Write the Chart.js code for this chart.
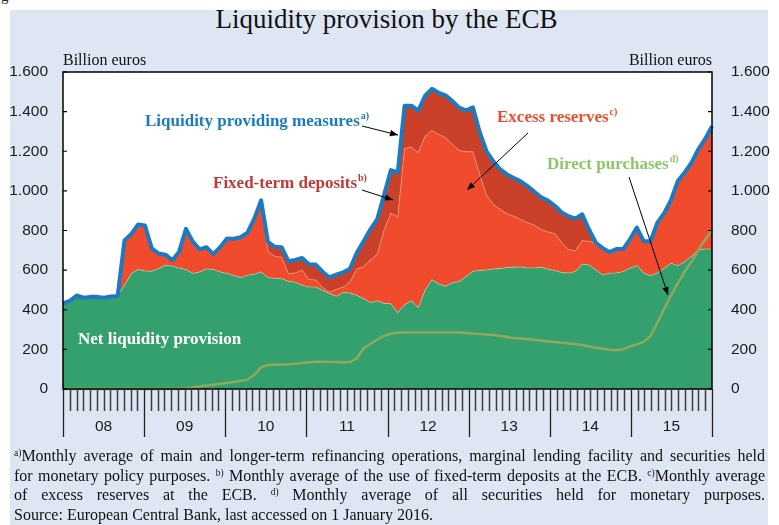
<!DOCTYPE html>
<html><head><meta charset="utf-8">
<script src="https://cdn.jsdelivr.net/npm/chart.js@4.4.1/dist/chart.umd.min.js"></script>
<style>
html,body{margin:0;padding:0;background:#fff;width:779px;height:525px;overflow:hidden;}
#bg{position:absolute;left:10px;top:10px;width:758px;height:515px;background:#dfe6f3;}
#frag{position:absolute;left:1px;top:-12px;font:15px "Liberation Serif",serif;color:#222;}
#title{position:absolute;left:0;width:773px;top:4px;text-align:center;font:27px "Liberation Serif",serif;color:#111;}
#c{position:absolute;left:0;top:0;}
#notes{position:absolute;left:14px;top:446px;width:751px;font:16px/19.5px "Liberation Serif",serif;color:#111;}
#notes div{text-align:justify;text-align-last:justify;white-space:nowrap;}
#notes div.last{text-align-last:left;}
#notes sup{font-size:9.5px;line-height:0;vertical-align:5px;}
</style></head>
<body>
<div id="bg"></div>
<div id="frag">g</div>
<div id="title">Liquidity provision by the ECB</div>
<canvas id="c" width="779" height="525"></canvas>
<div id="notes">
<div><sup>a)</sup>Monthly average of main and longer-term refinancing operations, marginal lending facility and securities held</div>
<div>for monetary policy purposes. <sup>b)</sup> Monthly average of the use of fixed-term deposits at the ECB. <sup>c)</sup>Monthly average</div>
<div>of excess reserves at the ECB. <sup>d)</sup> Monthly average of all securities held for monetary purposes.</div>
<div class="last">Source: European Central Bank, last accessed on 1 January 2016.</div>
</div>
<script>
// ---- data (billion euros, monthly averages Jan 2008 - Dec 2015) ----
const yearLabels = ['08','09','10','11','12','13','14','15'];
const monthNames = ['01','02','03','04','05','06','07','08','09','10','11','12'];
const yTickValues = [0,200,400,600,800,1000,1200,1400,1600];
const yTickLabels = ['0','200','400','600','800','1.000','1.200','1.400','1.600'];

const netLiquidity = [
 432,445,472,461,465,465,461,467,470,524,583,603,
 596,594,608,625,620,611,603,583,591,606,603,591,
 583,573,562,574,579,591,562,559,557,544,539,524,
 515,515,498,482,468,487,485,473,456,436,445,432,
 430,385,425,445,410,498,552,530,519,536,542,568,
 594,598,601,606,608,613,615,616,611,611,614,605,
 598,588,585,593,630,626,601,576,585,585,593,610,
 623,585,571,585,610,635,622,643,669,702,706,706];
const excessReserves = [
 0,0,0,0,0,0,0,0,0,226,200,227,
 229,116,76,53,30,82,205,161,114,110,78,125,
 177,185,204,215,281,361,132,111,108,38,47,76,
 38,35,14,6,35,27,55,132,161,215,235,371,
 458,483,789,776,782,778,753,755,749,698,662,629,
 603,485,377,325,298,271,257,239,228,216,191,187,
 187,150,119,104,120,119,137,135,106,121,113,147,
 192,161,175,255,278,319,428,450,473,508,556,621];
const fixedTermDeposits = [
 0,0,0,0,0,0,0,0,0,0,0,0,
 0,0,0,0,0,0,0,0,0,0,0,0,
 0,0,0,0,0,0,49,48,51,63,65,61,
 77,78,80,75,74,75,67,83,129,155,178,177,
 217,225,216,209,213,204,210,210,214,219,216,209,
 225,213,222,218,202,199,193,193,185,168,163,159,
 140,153,168,163,132,60,0,0,0,0,0,0,
 0,0,0,0,0,0,0,0,0,0,0,0];
const directPurchases = [
 0,0,0,0,0,0,0,0,0,0,0,0,
 0,0,0,0,0,0,3,8,13,18,22,27,
 30,35,40,47,72,108,122,123,124,125,127,131,
 135,137,137,136,136,135,136,155,205,228,250,268,
 280,284,285,285,285,285,285,285,285,285,285,283,
 280,278,275,272,268,263,258,255,252,248,245,240,
 237,233,230,227,222,215,208,203,198,196,200,215,
 225,238,268,333,405,472,534,593,643,702,753,803];

const months = [];
yearLabels.forEach(y => monthNames.forEach(m => months.push(y + '-' + m)));
const liquidityProviding = netLiquidity.map((v, i) => v + excessReserves[i] + fixedTermDeposits[i]);

// ---- styles ----
const C = {green:'#34a06e', excess:'#f04b2d', fixed:'#cb4028', blue:'#1b7bc2', dp:'#8fa85a',
  lblBlue:'#1b7bc2', lblFixed:'#bf3a33', lblExcess:'#f04b2d', lblDp:'#8cc765'};

function arrow(ctx, x1, y1, x2, y2) {
  ctx.save();
  ctx.strokeStyle = '#000'; ctx.fillStyle = '#000'; ctx.lineWidth = 1;
  ctx.beginPath(); ctx.moveTo(x1, y1); ctx.lineTo(x2, y2); ctx.stroke();
  const a = Math.atan2(y2 - y1, x2 - x1), L = 8, W = 3.2;
  ctx.beginPath();
  ctx.moveTo(x2, y2);
  ctx.lineTo(x2 - L*Math.cos(a) + W*Math.sin(a), y2 - L*Math.sin(a) - W*Math.cos(a));
  ctx.lineTo(x2 - L*Math.cos(a) - W*Math.sin(a), y2 - L*Math.sin(a) + W*Math.cos(a));
  ctx.closePath(); ctx.fill();
  ctx.restore();
}
function label(ctx, text, sup, x, y, color) {
  ctx.save();
  ctx.fillStyle = color; ctx.textBaseline = 'middle'; ctx.textAlign = 'left';
  ctx.font = 'bold 17px "Liberation Serif", serif';
  ctx.fillText(text, x, y);
  if (sup) {
    const w = ctx.measureText(text).width;
    ctx.font = 'bold 10px "Liberation Serif", serif';
    ctx.fillText(sup, x + w + 1, y - 6);
  }
  ctx.restore();
}

const deco = {
  id: 'deco',
  beforeDraw(chart) {
    const {ctx, chartArea: a} = chart;
    ctx.save(); ctx.fillStyle = '#fff';
    ctx.fillRect(a.left, a.top, a.right - a.left, a.bottom - a.top);
    ctx.restore();
  },
  afterDraw(chart) {
    const ctx = chart.ctx, a = chart.chartArea, y = chart.scales.y, xt = chart.scales.xt;
    ctx.save();
    // frame
    ctx.strokeStyle = '#000'; ctx.lineWidth = 1.5;
    ctx.strokeRect(a.left, a.top, a.right - a.left, a.bottom - a.top);
    // y ticks and labels
    ctx.font = '15.5px "Liberation Sans", Arial, sans-serif';
    ctx.fillStyle = '#1a1a1a'; ctx.textBaseline = 'middle';
    yTickValues.forEach((v, i) => {
      const py = y.getPixelForValue(v);
      ctx.lineWidth = 1.2; ctx.strokeStyle = '#000';
      ctx.beginPath(); ctx.moveTo(a.left, py); ctx.lineTo(a.left + 4, py);
      ctx.moveTo(a.right, py); ctx.lineTo(a.right - 4, py); ctx.stroke();
      ctx.textAlign = 'right'; ctx.fillText(yTickLabels[i], 48, py);
      ctx.textAlign = 'left'; ctx.fillText(yTickLabels[i], 731, py);
    });
    // month ticks and year separators
    for (let k = 0; k <= months.length; k++) {
      const px = Math.round(xt.getPixelForValue(k)) + 0.5;
      const yr = k % 12 === 0;
      ctx.strokeStyle = yr ? '#222' : '#3a3a3a'; ctx.lineWidth = yr ? 1.3 : 1.5;
      ctx.beginPath(); ctx.moveTo(px, a.bottom); ctx.lineTo(px, a.bottom + (yr ? 48 : 22)); ctx.stroke();
    }
    ctx.textAlign = 'center';
    yearLabels.forEach((t, i) => ctx.fillText(t, xt.getPixelForValue(12*i + 6), a.bottom + 38));
    // unit labels
    ctx.font = '16px "Liberation Serif", serif'; ctx.fillStyle = '#111';
    ctx.textAlign = 'left'; ctx.fillText('Billion euros', 63, 61);
    ctx.textAlign = 'right'; ctx.fillText('Billion euros', 712, 61);
    ctx.restore();
    // annotations
    label(ctx, 'Liquidity providing measures', 'a)', 145, 122, C.lblBlue);
    label(ctx, 'Fixed-term deposits', 'b)', 213, 184, C.lblFixed);
    label(ctx, 'Excess reserves', 'c)', 497, 118, C.lblExcess);
    label(ctx, 'Direct purchases', 'd)', 547, 165, C.lblDp);
    label(ctx, 'Net liquidity provision', null, 78, 340, '#ffffff');
    arrow(ctx, 362, 126, 398, 135);
    arrow(ctx, 362, 190, 393, 200);
    arrow(ctx, 528, 133, 467, 190);
    arrow(ctx, 629, 177, 668, 295);
  }
};

new Chart(document.getElementById('c'), {
  type: 'line',
  data: {
    labels: months,
    datasets: [
      {label:'Net liquidity provision', data: netLiquidity, stack:'a', fill:'origin', backgroundColor:C.green,
       borderColor:'rgba(235,235,200,0.55)', borderWidth:0.8, pointRadius:0, order:3},
      {label:'Excess reserves', data: excessReserves, stack:'a', fill:'-1', backgroundColor:C.excess,
       borderColor:'rgba(255,190,160,0.6)', borderWidth:0.8, pointRadius:0, order:3},
      {label:'Fixed-term deposits', data: fixedTermDeposits, stack:'a', fill:'-1', backgroundColor:C.fixed,
       borderColor:C.fixed, borderWidth:0, pointRadius:0, order:3},
      {label:'Liquidity providing measures', data: liquidityProviding, stack:'b', fill:false,
       borderColor:C.blue, borderWidth:4, pointRadius:0, order:1, borderJoinStyle:'round'},
      {label:'Direct purchases', data: directPurchases, stack:'c', fill:false, clip:false,
       borderColor:C.dp, borderWidth:2.5, pointRadius:0, order:2}
    ]
  },
  options: {
    responsive:false, devicePixelRatio:1, animation:false, events:[],
    layout:{padding:{left:63, right:67, top:72, bottom:136}},
    plugins:{legend:{display:false}, tooltip:{enabled:false}, title:{display:false}},
    scales:{
      x:{type:'category', offset:false, display:false},
      xt:{type:'linear', axis:'x', min:0, max:96, display:false},
      y:{stacked:true, min:0, max:1600, display:false}
    }
  },
  plugins:[deco]
});
</script>
</body></html>
